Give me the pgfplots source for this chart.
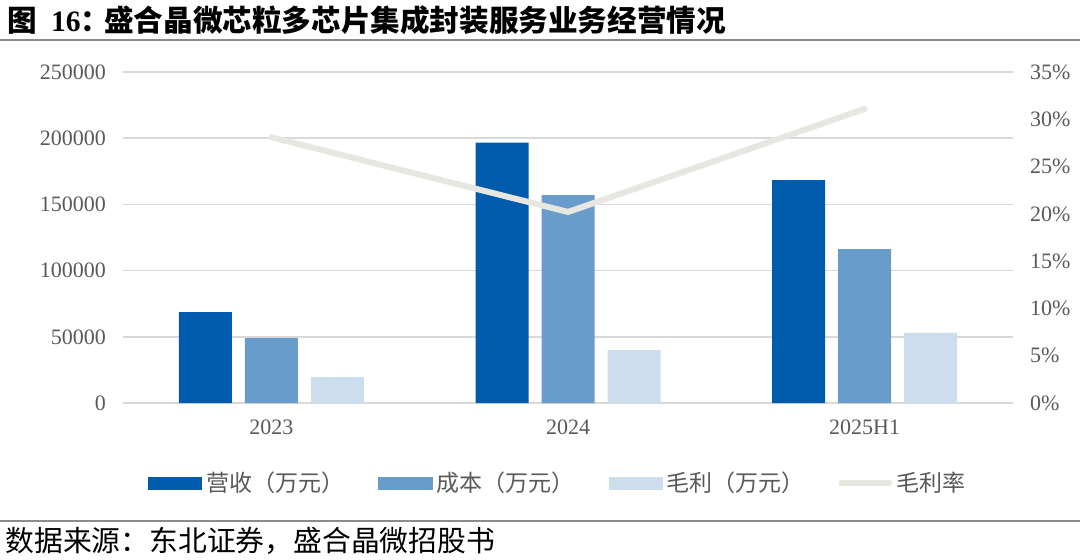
\documentclass[border=0pt]{standalone}
\usepackage{pgfplots}
\pgfplotsset{compat=1.18}
\usepackage{fontspec}
\setmainfont{Liberation Serif}
\newfontfamily\cjk{Noto Sans CJK SC}
\definecolor{c1}{HTML}{005BAC}
\definecolor{c2}{HTML}{689DCB}
\definecolor{c3}{HTML}{CCDDED}
\definecolor{cl}{HTML}{E8E6E1}
\definecolor{gridc}{HTML}{D9D9D9}
\definecolor{tickc}{HTML}{595959}
\begin{document}
\begin{tikzpicture}
\useasboundingbox (0,0) rectangle (540pt,279.5pt);
% title
\node[anchor=west,inner sep=0pt] at (3.5pt,269.5pt) {\cjk\bfseries\fontsize{14.8pt}{16pt}\selectfont 图\hspace{7pt}{\rmfamily 16}：\hspace{-3pt}盛合晶微芯粒多芯片集成封装服务业务经营情况};
\draw[line width=1.4pt,color=gray!90] (0,259.5pt) -- (540pt,259.5pt);
% source
\draw[line width=1pt,color=gray!90] (0,19pt) -- (540pt,19pt);
\node[anchor=west,inner sep=0pt] at (2.5pt,9pt) {\cjk\fontsize{14.4pt}{16pt}\selectfont 数据来源：东北证券，盛合晶微招股书};

\begin{axis}[
  at={(61.5pt,78pt)}, anchor=south west,
  scale only axis, width=445pt, height=165.5pt,
  xmin=-0.5, xmax=2.5, ymin=0, ymax=250000,
  xtick={0,1,2}, xticklabels={2023,2024,2025H1},
  ytick={0,50000,100000,150000,200000,250000},
  scaled y ticks=false,
  yticklabel style={/pgf/number format/1000 sep={}, /pgf/number format/fixed},
  /pgf/number format/assume math mode=true,
  axis line style={draw=none},
  major tick length=0pt,
  ymajorgrids, grid style={gridc, line width=0.8pt},
  tick label style={font=\fontsize{11pt}{13pt}\selectfont, text=tickc},
  xticklabel style={yshift=-5pt},
  yticklabel style={xshift=-5pt},
  legend style={at={(0.5,-0.183)}, anchor=north, xshift=-4.5pt, draw=none, legend columns=4,
    font=\cjk\fontsize{11.5pt}{13pt}\selectfont, text=tickc,
    /tikz/every even column/.append style={column sep=15pt}},
  legend cell align=left,
]
\addplot[ybar, bar width=26.5pt, bar shift=-33pt, fill=c1, draw=none,
  legend image code/.code={\fill[c1] (0pt,-3.3pt) rectangle (27pt,3.3pt);}]
  coordinates {(0,68700) (1,196600) (2,168400)};
\addlegendentry{营收（万元）}
\addplot[ybar, bar width=26.5pt, bar shift=0pt, fill=c2, draw=none,
  legend image code/.code={\fill[c2] (0pt,-3.3pt) rectangle (27pt,3.3pt);}]
  coordinates {(0,49100) (1,157100) (2,116300)};
\addlegendentry{成本（万元）}
\addplot[ybar, bar width=26.5pt, bar shift=33pt, fill=c3, draw=none,
  legend image code/.code={\fill[c3] (0pt,-3.3pt) rectangle (27pt,3.3pt);}]
  coordinates {(0,19600) (1,40000) (2,52900)};
\addlegendentry{毛利（万元）}
\addlegendimage{legend image code/.code={\draw[cl, line width=3pt, line cap=round] (1.5pt,0pt) -- (25.5pt,0pt);}}
\addlegendentry{毛利率}
\end{axis}

\begin{axis}[
  at={(61.5pt,78pt)}, anchor=south west,
  scale only axis, width=445pt, height=165.5pt,
  xmin=-0.5, xmax=2.5, ymin=0, ymax=35,
  axis x line=none,
  axis y line*=right,
  axis line style={draw=none},
  major tick length=0pt,
  ytick={0,5,10,15,20,25,30,35},
  yticklabel={\pgfmathprintnumber{\tick}\%},
  /pgf/number format/assume math mode=true,
  tick label style={font=\fontsize{11pt}{13pt}\selectfont, text=tickc},
  yticklabel style={anchor=west, xshift=5pt},
]
\addplot[cl, line width=3pt, line cap=round, line join=round] coordinates {(0,28.1) (1,20.2) (2,31.1)};
\end{axis}
\end{tikzpicture}
\end{document}
